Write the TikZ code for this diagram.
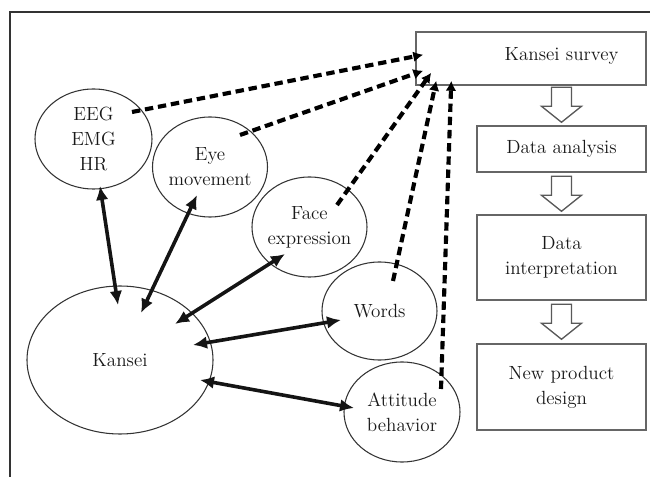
\documentclass[tikz,border=0pt]{standalone}
\usetikzlibrary{shapes.geometric,arrows.meta,calc}
\begin{document}
\begin{tikzpicture}[x=0.75pt,y=-0.75pt,
  txt/.style={font=\fontsize{14.3}{18.75}\selectfont, text=black!90, align=center},
  bubble/.style={ellipse, draw=black!80, line width=0.8pt, inner sep=0pt},
  box/.style={rectangle, draw=black!60, line width=1.1pt, inner sep=0pt, txt},
  link/.style={line width=2.7pt, draw=black!92, {Latex[length=10.5pt,width=9.5pt]}-{Latex[length=10.5pt,width=9.5pt]}},
  feed/.style={line width=3.1pt, draw=black, dash pattern=on 6.3pt off 3.6pt, -{Latex[length=7.5pt,width=8pt]}},
  flowarrow/.pic={\draw[draw=black!65, line width=1pt, fill=white, line join=miter]
     (-10,-35) -- (-10,-16) -- (-20,-16) -- (0,0) -- (20,-16) -- (10,-16) -- (10,-35) -- cycle;}
]
\useasboundingbox (0,0) rectangle (650,477);
% frame
\draw[line width=1.2pt, black!80] (650,12) -- (10,12) -- (10,477);

% ellipses
\node[bubble, minimum width=87.75pt, minimum height=75pt, label={[txt]center:{EEG\\EMG\\HR}}] (eeg) at (93.5,139) {};
\node[bubble, minimum width=86.25pt, minimum height=75pt, label={[txt]center:{Eye\\movement}}] (eye) at (210,167) {};
\node[bubble, minimum width=86.25pt, minimum height=75pt, label={[txt]center:{Face\\expression}}] (face) at (309.5,227) {};
\node[bubble, minimum width=86.25pt, minimum height=73.5pt, label={[txt]center:{Words}}] (words) at (379.5,311) {};
\node[bubble, minimum width=87pt, minimum height=75pt, label={[txt]center:{Attitude\\behavior}}] (att) at (402,412) {};
\node[bubble, minimum width=139.5pt, minimum height=111pt, label={[txt]center:{Kansei}}] (kansei) at (120,360) {};

% boxes
\node[box, minimum width=172.5pt, minimum height=39.75pt] (survey) at (531,58.5) {};
\node[txt] (surveytxt) at (561.5,56) {Kansei survey};
\node[box, minimum width=126.75pt, minimum height=34.5pt] (analysis) at (561.5,149) {Data analysis};
\node[box, minimum width=126.75pt, minimum height=63.75pt] (interp) at (561.5,257.5) {Data\\interpretation};
\node[box, minimum width=126.75pt, minimum height=64.5pt] (design) at (561.5,387) {New product\\design};

% hollow flow arrows
\pic at ($(analysis.north)+(0,-3)$) {flowarrow};
\pic at ($(interp.north)+(0,-3)$) {flowarrow};
\pic at ($(design.north)+(0,-4)$) {flowarrow};

% solid double arrows
\draw[link] ($(eeg)+(6.5,47)$) -- ($(kansei)+(-2,-55)$);
\draw[link] ($(eye)+(-13,28)$) -- ($(kansei)+(21,-47)$);
\draw[link] ($(face)+(-24.5,27)$) -- ($(kansei)+(55,-36)$);
\draw[link] ($(words)+(-38.5,9)$) -- ($(kansei)+(73,-15)$);
\draw[link] ($(att)+(-48,-4)$) -- ($(kansei)+(80,20)$);

% dashed arrows to survey
\draw[feed] ($(eeg)+(38.5,-27)$) -- ($(survey.south west)+(8,-31)$);
\draw[feed] ($(eye)+(30,-32)$) -- ($(survey.south west)+(8,-15)$);
\draw[feed] ($(face)+(27.5,-22)$) -- ($(survey.south west)+(16,-13)$);
\draw[feed] ($(words)+(13.5,-30)$) -- ($(survey.south west)+(21,-5)$);
\draw[feed] ($(att)+(39,-23)$) -- ($(survey.south west)+(36,-5)$);
\end{tikzpicture}
\end{document}
